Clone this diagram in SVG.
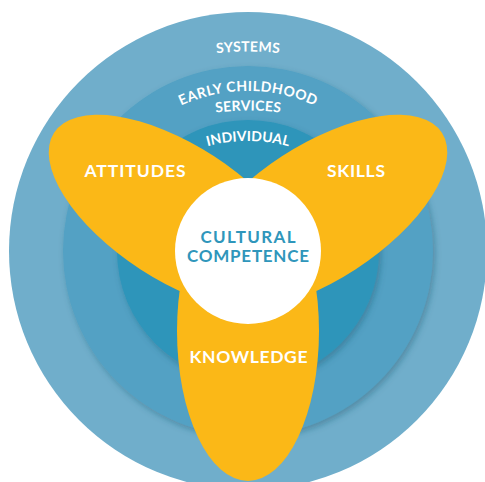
<svg xmlns="http://www.w3.org/2000/svg" width="485" height="482" viewBox="0 0 485 482">
  <defs>
    <filter id="sh" x="-20%" y="-20%" width="140%" height="140%">
      <feDropShadow dx="2" dy="3" stdDeviation="3" flood-color="#1d4f66" flood-opacity="0.38"/>
    </filter>
    <path id="arcSystems" d="M -52 351.5 A 300 300 0 0 1 548 351.5"/>
    <path id="arcEarly" d="M 88 251 A 160 160 0 0 1 408 251"/>
    <path id="arcServices" d="M -2 360.5 A 250 250 0 0 1 498 360.5"/>
    <path id="arcIndividual" d="M 88 301 A 160 160 0 0 1 408 301"/>
  </defs>
  <style>
    .ring { font-family: Lato, "Liberation Sans", sans-serif; font-weight: 700; font-size: 14px; fill: #ffffff; }
    .lbl { font-family: Lato, "Liberation Sans", sans-serif; font-weight: 700; font-size: 17.5px; fill: #ffffff; text-anchor: middle; }
    .ctr { font-family: Lato, "Liberation Sans", sans-serif; font-weight: 700; font-size: 17px; fill: #2f96bb; text-anchor: middle; }
    .yel { fill: #fbb817; }
  </style>
  <rect width="485" height="482" fill="#ffffff"/>
  <g id="systems">
    <circle cx="248" cy="251" r="239" fill="#70aecb"/>
    <text class="ring"><textPath href="#arcSystems" startOffset="50%" text-anchor="middle" textLength="63" lengthAdjust="spacing">SYSTEMS</textPath></text>
  </g>
  <g id="early-childhood-services">
    <circle cx="248" cy="251" r="185" fill="#52a1c4" filter="url(#sh)"/>
    <text class="ring"><textPath href="#arcEarly" startOffset="50%" text-anchor="middle" textLength="138" lengthAdjust="spacing">EARLY CHILDHOOD</textPath></text>
    <text class="ring"><textPath href="#arcServices" startOffset="50%" text-anchor="middle" textLength="65" lengthAdjust="spacing">SERVICES</textPath></text>
  </g>
  <g id="individual">
    <circle cx="248" cy="251" r="131" fill="#2e95ba" filter="url(#sh)"/>
    <text class="ring"><textPath href="#arcIndividual" startOffset="50%" text-anchor="middle" textLength="82" lengthAdjust="spacing">INDIVIDUAL</textPath></text>
  </g>
  <g id="knowledge">
    <ellipse class="yel" cx="248" cy="331" rx="71" ry="150"/>
  </g>
  <g id="attitudes">
    <ellipse class="yel" cx="254.5" cy="331" rx="67.5" ry="147" transform="rotate(123 248 251)"/>
  </g>
  <g id="skills">
    <ellipse class="yel" cx="241.5" cy="331" rx="67.5" ry="147" transform="rotate(-123 248 251)"/>
  </g>
  <g id="cultural-competence">
    <circle cx="248" cy="251" r="73" fill="#ffffff"/>
    <text class="ctr" x="248" y="242.5" textLength="95" lengthAdjust="spacing">CULTURAL</text>
    <text class="ctr" x="248" y="262" textLength="122" lengthAdjust="spacing">COMPETENCE</text>
  </g>
  <g id="labels">
    <text class="lbl" x="135" y="177.3" textLength="101" lengthAdjust="spacing">ATTITUDES</text>
    <text class="lbl" x="356" y="177.3" textLength="58" lengthAdjust="spacing">SKILLS</text>
    <text class="lbl" x="248.5" y="363.3" textLength="118" lengthAdjust="spacing">KNOWLEDGE</text>
  </g>
  <g id="connectors"/>
</svg>
